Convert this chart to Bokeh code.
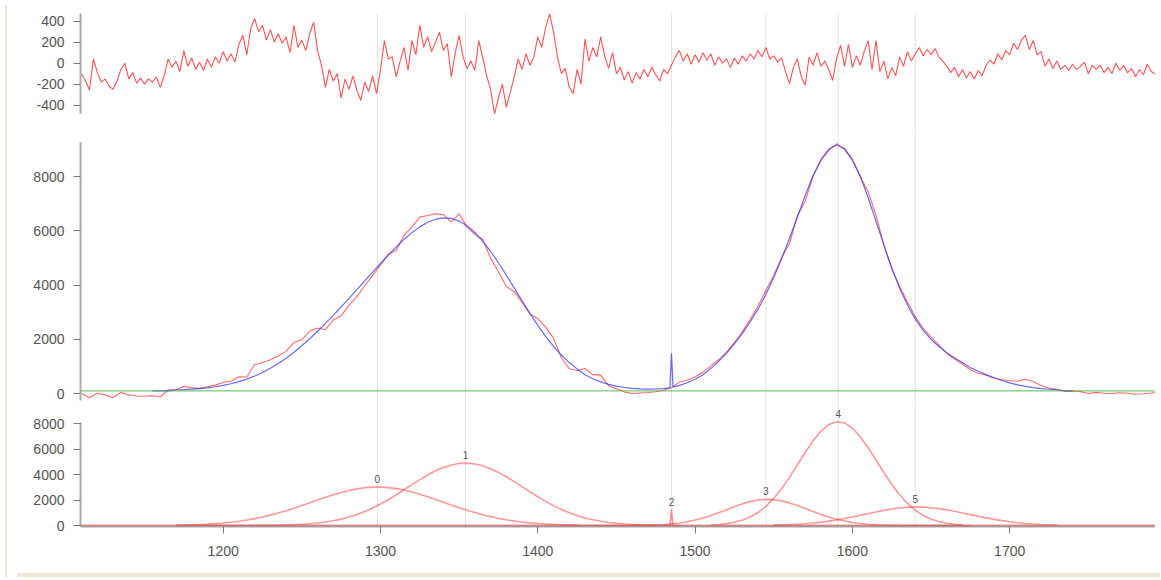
from bokeh.plotting import figure
from bokeh.models import Range1d, Span, FixedTicker, Div
from bokeh.layouts import column, row
from bokeh.embed import file_html
from bokeh.resources import INLINE
from bokeh.core.properties import value

# ---------------- data ----------------
baseline_level = 100

resid_start = 1110.0
resid_step = 2.5
residual = [
    -100, -170, -255, 40, -90, -180, -150, -220, -250, -170,
    -60, 0, -150, -90, -190, -140, -200, -150, -180, -130,
    -230, -120, 40, -40, 20, -80, 120, -30, 50, -60,
    10, -70, 40, -40, 60, 0, 110, 20, 90, 10,
    180, 265, 80, 330, 425, 300, 360, 220, 320, 200,
    280, 190, 250, 100, 360, 150, 220, 120, 280, 390,
    120, -20, -230, -60, -170, -100, -330, -150, -250, -120,
    -260, -355, -180, -270, -120, -290, -60, 215, 40, 60,
    -130, 20, 150, -70, 215, 80, 360, 150, 250, 110,
    200, 295, 120, 185, -130, 100, 265, 60, -50, 20,
    -70, 215, 55, -120, -250, -480, -330, -200, -420, -280,
    -130, 40, -60, 90, -20, 60, 250, 150, 340, 470,
    300, 60, -100, -50, -230, -290, -60, -200, 230, 20,
    150, 60, 250, 70, -50, 100, -100, -40, -160, -80,
    -190, -90, -150, -60, -130, -40, -110, -170, -60, -100,
    -20, 60, 120, 20, 90, -10, 80, 10, 100, 30,
    90, -20, 60, 0, 40, -40, 50, -10, 70, 20,
    90, 40, 120, 60, 150, 40, 70, 10, 50, -80,
    -195, -40, 40, -130, -210, 60, -20, 100, -30, 20,
    -60, -165, 50, 170, -30, 180, -40, 70, -20, 110,
    215, -60, 215, -80, 20, -150, -40, -120, 60, -30,
    110, 20, 90, 150, 70, 130, 80, 140, 60, 20,
    -30, -90, -40, -130, -60, -140, -80, -150, -70, -120,
    -20, 30, -10, 90, 30, 120, 80, 190, 130, 220,
    265, 130, 215, 80, 110, -30, 40, -50, 20, -60,
    -20, -70, -10, -60, -30, 10, -100, -20, -60, -20,
    -90, -40, -100, 0, -70, -20, -90, -50, -130, -60,
    -110, -10, -80, -100, -40, -60,
]
resid_x = [resid_start + resid_step * i for i in range(len(residual))]

comp0_x = list(range(1170, 1430, 5))
comp0_y = [29, 42, 58, 81, 110, 149, 199, 260, 336, 427, 538, 666, 813, 980, 1163,
           1360, 1569, 1786, 2003, 2215, 2415, 2596, 2752, 2875, 2962, 3009, 3013,
           2974, 2895, 2779, 2629, 2452, 2256, 2046, 1829, 1613, 1401, 1201, 1015,
           846, 694, 562, 448, 354, 274, 209, 158, 118, 86, 62, 45, 31]

comp1_x = list(range(1175, 1480, 5))
comp1_y = [0, 0, 0, 0, 0, 1, 1, 2, 4, 7, 11, 17, 28, 42, 64, 94, 137, 195, 271, 372,
           501, 662, 859, 1096, 1372, 1686, 2035, 2412, 2808, 3208, 3599, 3964, 4288,
           4555, 4749, 4864, 4893, 4829, 4681, 4456, 4164, 3822, 3444, 3048, 2647,
           2259, 1892, 1557, 1258, 997, 777, 593, 446, 329, 238, 169, 117, 80, 55,
           36, 24]

comp2_x = [1480, 1484, 1485, 1486, 1490]
comp2_y = [0, 0, 1250, 0, 0]

comp3_x = sorted(list(range(1415, 1680, 5)) + [1484, 1486])
comp3_y = [0, 0, 0, 0, 0, 1, 1, 2, 4, 9, 16, 29, 49, 82, 119, 131, 143, 202, 299,
           428, 591, 786, 1007, 1243, 1479, 1696, 1875, 1996, 2050, 2026, 1931, 1773,
           1570, 1339, 1101, 872, 666, 490, 347, 237, 156, 99, 61, 36, 20, 11, 6, 3,
           1, 0, 0, 0, 0, 0, 0]

comp4_x = list(range(1510, 1675, 5))
comp4_y = [43, 80, 145, 250, 415, 663, 1017, 1500, 2124, 2889, 3778, 4745, 5726, 6639,
           7396, 7917, 8142, 8045, 7638, 6967, 6105, 5140, 4157, 3232, 2414, 1732,
           1194, 790, 503, 308, 180, 101, 55]

comp5_x = list(range(1550, 1735, 5))
comp5_y = [32, 49, 71, 102, 143, 196, 263, 343, 439, 549, 670, 800, 933, 1063, 1184,
           1289, 1372, 1426, 1449, 1439, 1397, 1325, 1229, 1113, 986, 853, 721, 596,
           482, 380, 293, 221, 163, 117, 83, 57, 38]

comp_names = ["0", "1", "2", "3", "4", "5"]
comp_centers = [1298, 1354, 1485, 1545, 1591, 1640]
comp_heights = [3013, 4893, 1250, 2050, 8142, 1449]

fit_start, fit_end = 1155, 1740

x_ticks = [1200, 1300, 1400, 1500, 1600, 1700]
resid_ticks = [-400, -200, 0, 200, 400]
resid_tick_labels = ["-400", "-200", "0", "200", "400"]
main_ticks = [0, 2000, 4000, 6000, 8000]
comp_ticks = [0, 2000, 4000, 6000, 8000]

# ---------------- derived series ----------------
comps = [(comp0_x, comp0_y), (comp1_x, comp1_y), (comp2_x, comp2_y),
         (comp3_x, comp3_y), (comp4_x, comp4_y), (comp5_x, comp5_y)]
comp_maps = [{float(x): y for x, y in zip(cx, cy)} for cx, cy in comps]

fit_grid = set(float(x) for x in range(fit_start, fit_end + 1, 5))
fit_grid |= set(float(x) for x in comp2_x) | set(float(x) for x in comp3_x)
fit_x = sorted(x for x in fit_grid if fit_start <= x <= fit_end)
fit_y = [baseline_level + sum(m.get(x, 0) for m in comp_maps) for x in fit_x]

resid_map = dict(zip(resid_x, residual))
data_x = [x for x in resid_x if x % 5 == 0]
data_y = [baseline_level + sum(m.get(x, 0) for i, m in enumerate(comp_maps) if i != 2)
          + resid_map[x] for x in data_x]

# ---------------- styling ----------------
FONT = "Liberation Sans"
RED = "#ff1a1a"
W = 1143
xr = Range1d(1109.3, 1792.7)


def base_fig(height, yr, **kw):
    p = figure(width=W, height=height, x_range=xr, y_range=yr, title=None,
               output_backend="svg", toolbar_location=None, tools="",
               min_border_left=68, min_border_right=0,
               outline_line_color=None, background_fill_color="white",
               border_fill_color="white", **kw)
    p.xgrid.visible = False
    p.ygrid.visible = False
    for c in comp_centers:
        p.add_layout(Span(location=c, dimension="height", line_color="#e3e3e3",
                          line_width=1, level="underlay"))
    return p


def style_axis(ax, ticks, bounds=None):
    ax.ticker = FixedTicker(ticks=ticks)
    if bounds is not None:
        ax.bounds = bounds
    ax.axis_line_color = "#a9a9a9"
    ax.axis_line_width = 2
    ax.major_tick_line_color = "#7a7a7a"
    ax.major_tick_line_width = 1
    ax.major_tick_out = 7
    ax.major_tick_in = 0
    ax.minor_tick_line_color = None
    ax.major_label_text_font = FONT
    ax.major_label_text_font_size = "14px"
    ax.major_label_text_color = "#555555"
    ax.major_label_standoff = 9


# top: residual
top = base_fig(128, Range1d(-622, 473), x_axis_location=None,
               min_border_top=13, min_border_bottom=0)
style_axis(top.yaxis[0], resid_ticks, (-479, 473))
top.yaxis[0].major_label_overrides = dict(zip(resid_ticks, resid_tick_labels))
top.line(resid_x, residual, line_color=RED, line_alpha=0.75, line_width=1.1)

# middle: spectrum + fit
mid = base_fig(275, Range1d(-369, 9782), x_axis_location=None,
               min_border_top=0, min_border_bottom=0)
style_axis(mid.yaxis[0], main_ticks, (-258, 9266))
mid.add_layout(Span(location=baseline_level, dimension="width",
                    line_color="#3cb83c", line_alpha=0.7, line_width=1.3))
mid.line(data_x, data_y, line_color=RED, line_alpha=0.65, line_width=1.1)
mid.line(fit_x, fit_y, line_color="#2a2aff", line_alpha=0.7, line_width=1.2)

# bottom: components
bot = base_fig(165, Range1d(-78, 9569), min_border_top=0, min_border_bottom=42)
style_axis(bot.yaxis[0], comp_ticks, (-78, 8100))
style_axis(bot.xaxis[0], x_ticks)
bot.xaxis[0].major_label_standoff = 12
bot.add_layout(Span(location=0, dimension="width", line_color="#d42020",
                    line_alpha=0.45, line_width=2))
for cx, cy in comps:
    bot.line(cx, cy, line_color=RED, line_alpha=0.45, line_width=1.6)
bot.text(x=comp_centers, y=comp_heights, text=comp_names, y_offset=-4,
         text_align="center", text_baseline="bottom",
         text_font=value(FONT), text_font_size="10px", text_color="#555555")

BEIGE = "#ECE7D6"
left_strip = Div(text="", width=2, height=572, styles={"background-color": BEIGE})
bottom_strip = Div(text="", width=W, height=4, styles={"background-color": BEIGE})

layout = row(left_strip, column(top, mid, bot, bottom_strip, spacing=0), spacing=0)

open("out.html", "w").write(file_html(layout, INLINE))
